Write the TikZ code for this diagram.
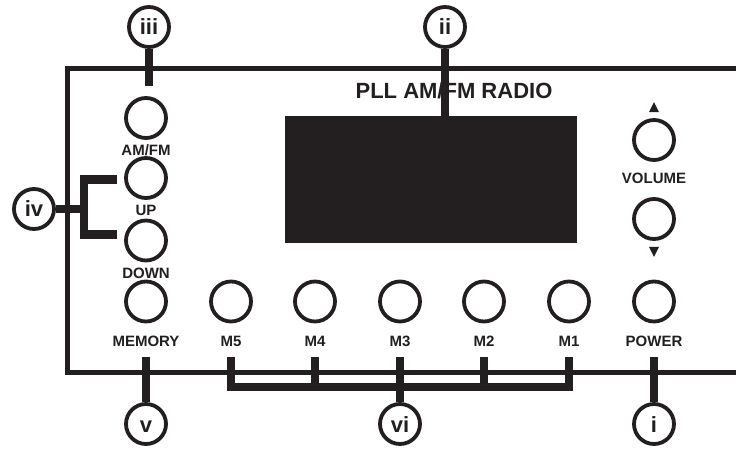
\documentclass[tikz,border=0pt]{standalone}
\usepackage{fontspec}
\setmainfont{Liberation Sans}
\usetikzlibrary{positioning}
\definecolor{panelink}{HTML}{231F20}
\tikzset{
  knob/.style={circle, draw=panelink, line width=3.8pt, minimum size=40pt, inner sep=0pt},
  knoblabel/.style={font=\fontsize{15}{15}\selectfont\bfseries, text=panelink,
                    inner sep=0pt, text height=10.7pt, text depth=0pt},
  callout/.style={circle, draw=panelink, fill=white, line width=3.8pt, minimum size=40pt,
                  inner sep=0pt, text height=16pt, text depth=0pt,
                  font=\fontsize{22}{22}\selectfont\bfseries, text=panelink},
  lead/.style={draw=panelink, line width=8.5pt},
  panel/.style={draw=panelink, line width=4.5pt},
  display/.style={fill=panelink, minimum width=292pt, minimum height=127pt, inner sep=0pt},
}

\begin{document}
\begin{tikzpicture}[x=1pt, y=1pt]
    \useasboundingbox (0,0) rectangle (736,-449);
    % front panel
    \draw[panel] (736,-68.3) -- (67.5,-68.3) -- (67.5,-372.3) -- (736,-372.3);
    \node[display] (disp) at (431,-179.5) {};
    \node[font=\fontsize{22}{22}\selectfont\bfseries, text=panelink, inner sep=0pt,
          text height=15.8pt, text depth=0pt] (title) at (454,-90.5) {PLL AM/FM RADIO};
    % buttons
    \node[knob] (amfm) at (146,-118) {};
    \node[knob] (up) at (146,-178) {};
    \node[knob] (down) at (146,-240.5) {};
    \node[knob] (memory) at (146,-301.5) {};
    \node[knob] (m5) at (231,-301.5) {};
    \node[knob] (m4) at (315,-301.5) {};
    \node[knob] (m3) at (400,-301.5) {};
    \node[knob] (m2) at (484,-301.5) {};
    \node[knob] (m1) at (569,-301.5) {};
    \node[knob] (power) at (654,-301.5) {};
    \node[knob] (volup) at (654,-140) {};
    \node[knob] (voldown) at (654,-219) {};
    % button labels
    \node[knoblabel, below=5pt of amfm] (amfmlbl) {AM/FM};
    \node[knoblabel, below=5pt of up] (uplbl) {UP};
    \node[knoblabel, below=5pt of down] (downlbl) {DOWN};
    \node[knoblabel, below=12pt of memory] (memorylbl) {MEMORY};
    \node[knoblabel, below=12pt of m5] (m5lbl) {M5};
    \node[knoblabel, below=12pt of m4] (m4lbl) {M4};
    \node[knoblabel, below=12pt of m3] (m3lbl) {M3};
    \node[knoblabel, below=12pt of m2] (m2lbl) {M2};
    \node[knoblabel, below=12pt of m1] (m1lbl) {M1};
    \node[knoblabel, below=12pt of power] (powerlbl) {POWER};
    \node[knoblabel, below=11pt of volup] (volumelbl) {VOLUME};
    \fill[panelink] ([yshift=6pt]volup.north) ++(-5,0) -- ++(10,0) -- ++(-5,10) -- cycle;
    \fill[panelink] ([yshift=-6pt]voldown.south) ++(-5,0) -- ++(10,0) -- ++(-5,-10) -- cycle;
    % callouts
    \node[callout] (i) at (654,-424) {i};
    \node[callout] (ii) at (445,-27) {ii};
    \node[callout] (iii) at (149,-27) {iii};
    \node[callout] (iv) at (34,-209) {iv};
    \node[callout] (v) at (146,-424) {v};
    \node[callout] (vi) at (400,-424) {vi};
    % leader lines
    \draw[lead] (iii.south) -- ++(0,-37);
    \draw[lead] (ii.south) -- (ii |- disp.north);
    \coordinate (ivjoint) at (84,-209);
    \coordinate (uptip) at (117,-179.5);
    \coordinate (downtip) at (117,-234.5);
    \draw[lead] (iv.east) -- (ivjoint);
    \draw[lead] (uptip) -| (ivjoint) |- (downtip);
    \draw[lead] ([yshift=-10pt]memorylbl.south) -- (v.north);
    \draw[lead] ([yshift=-10pt]m5lbl.south) -- (m5 |- 0,-387) -- (m1 |- 0,-387) -- ([yshift=-10pt]m1lbl.south);
    \draw[lead] ([yshift=-10pt]m4lbl.south) -- (m4 |- 0,-387);
    \draw[lead] ([yshift=-10pt]m2lbl.south) -- (m2 |- 0,-387);
    \draw[lead] ([yshift=-10pt]m3lbl.south) -- (vi.north);
    \draw[lead] ([yshift=-10pt]powerlbl.south) -- (i.north);
\end{tikzpicture}
\end{document}
